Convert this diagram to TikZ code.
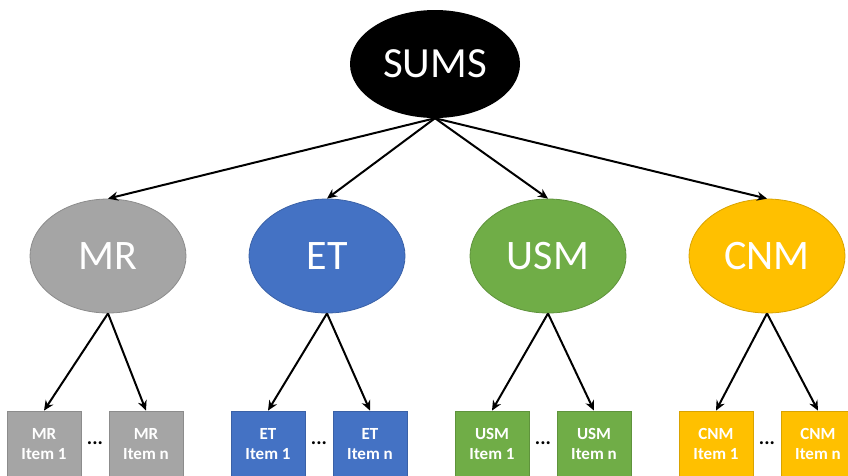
\documentclass[tikz,border=0pt]{standalone}
\usepackage{fontspec}
\setmainfont{Carlito}
\usetikzlibrary{shapes.geometric,arrows.meta}
\definecolor{cgray}{HTML}{A5A5A5}
\definecolor{cblue}{HTML}{4472C4}
\definecolor{cgreen}{HTML}{70AD47}
\definecolor{cgold}{HTML}{FFC000}
\tikzset{
  oval/.style={ellipse, inner sep=0pt, minimum width=156pt, minimum height=114pt,
    fill=#1, draw=#1!85!black, line width=0.8pt, text=white, font=\fontsize{42}{46}\selectfont},
  itembox/.style={rectangle, inner sep=0pt, minimum width=74pt, minimum height=66pt,
    fill=#1, draw=#1!85!black, line width=0.8pt, text=white, align=center,
    font=\fontsize{17}{20}\selectfont\bfseries},
  link/.style={line width=2pt, -{Stealth[length=10pt,width=9pt]}},
  gap/.style={font=\fontsize{20}{20}\selectfont\bfseries}
}
\begin{document}
\begin{tikzpicture}[x=1pt,y=-1pt]
\useasboundingbox (0,0) rectangle (848,475);
\clip (0,0) rectangle (848,475);
% root
\node[ellipse, inner sep=0pt, minimum width=170pt, minimum height=108pt, fill=black,
  text=white, font=\fontsize{43}{46}\selectfont] (sums) at (435,64) {SUMS};
% categories
\node[oval=cgray]  (mr)  at (108,256) {MR};
\node[oval=cblue]  (et)  at (327,256) {ET};
\node[oval=cgreen] (usm) at (548,256) {USM};
\node[oval=cgold]  (cnm) at (767,256) {CNM};
% items
\node[itembox=cgray]  (mr1)  at (44,444)  {MR\\Item 1};
\node[itembox=cgray]  (mrn)  at (146,444) {MR\\Item n};
\node[itembox=cblue]  (et1)  at (268,444) {ET\\Item 1};
\node[itembox=cblue]  (etn)  at (370,444) {ET\\Item n};
\node[itembox=cgreen] (usm1) at (492,444) {USM\\Item 1};
\node[itembox=cgreen] (usmn) at (594,444) {USM\\Item n};
\node[itembox=cgold]  (cnm1) at (716,444) {CNM\\Item 1};
\node[itembox=cgold]  (cnmn) at (818,444) {CNM\\Item n};
% ellipsis between items
\node[gap] (d1) at (95,443)  {...};
\node[gap] (d2) at (319,443) {...};
\node[gap] (d3) at (543,443) {...};
\node[gap] (d4) at (767,443) {...};
% connectors
\foreach \c in {mr,et,usm,cnm}
  \draw[link] (sums.south) -- (\c.north);
\draw[link] (mr.south)  -- (mr1.north);
\draw[link] (mr.south)  -- (mrn.north);
\draw[link] (et.south)  -- (et1.north);
\draw[link] (et.south)  -- (etn.north);
\draw[link] (usm.south) -- (usm1.north);
\draw[link] (usm.south) -- (usmn.north);
\draw[link] (cnm.south) -- (cnm1.north);
\draw[link] (cnm.south) -- (cnmn.north);
\end{tikzpicture}
\end{document}
